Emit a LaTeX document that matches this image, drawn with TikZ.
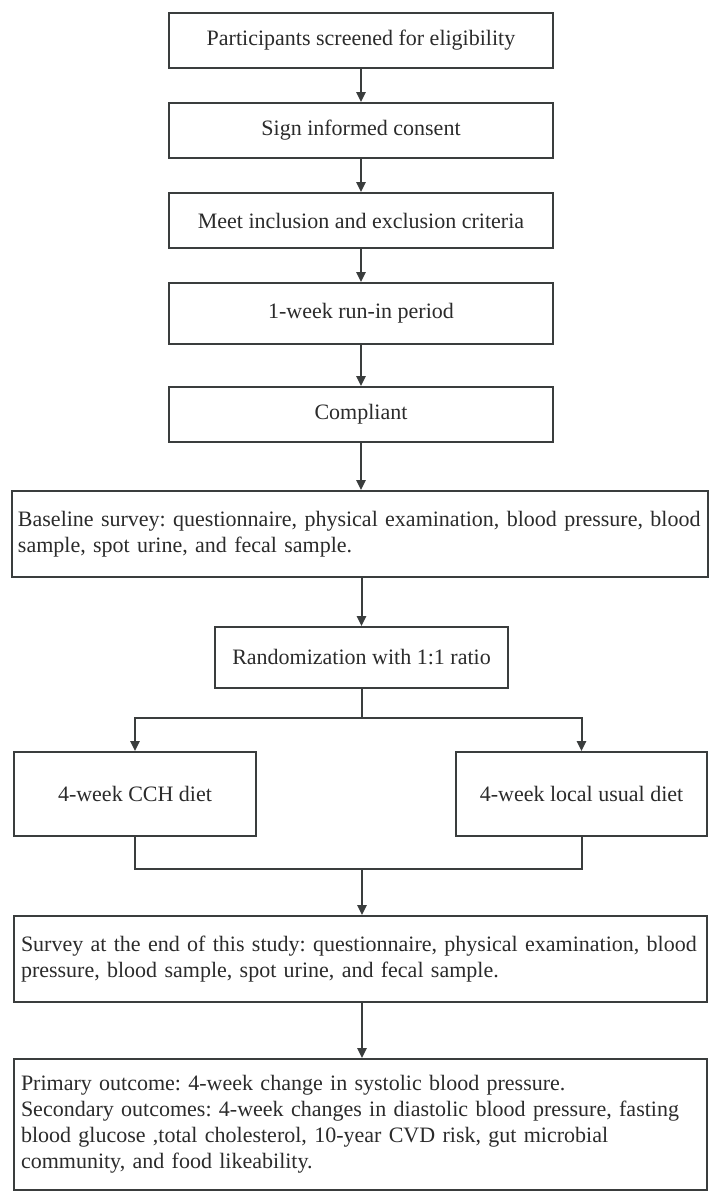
\documentclass[tikz,border=0pt]{standalone}
\usepackage{fontspec}
\setmainfont{Liberation Serif}
\usetikzlibrary{arrows.meta}
\definecolor{lncol}{HTML}{3A3D3D}
\definecolor{txcol}{HTML}{2B2B2B}
\frenchspacing
\begin{document}
\begin{tikzpicture}[x=0.5pt,y=-0.5pt,
  box/.style={draw=lncol, line width=1pt, inner sep=0pt, text=txcol,
    font=\fontsize{11}{13}\selectfont\frenchspacing},
  wide/.style={box, align=left},
  conn/.style={draw=lncol, line width=1pt},
  arr/.style={conn, -{Triangle[length=5pt,width=4.6pt]}}]
\useasboundingbox (0,0) rectangle (711,1194);
\fill[white] (0,0) rectangle (711,1194);

\node[box, minimum width=192pt, minimum height=27.5pt] (b1) at (361,40.5) {Participants screened for eligibility};
\node[box, minimum width=192pt, minimum height=27.5pt] (b2) at (361,130.5) {Sign informed consent};
\node[box, minimum width=192pt, minimum height=27.5pt] (b3) at (361,220.5) {Meet inclusion and exclusion criteria};
\node[box, minimum width=192pt, minimum height=30.5pt] (b4) at (361,313.5) {1-week run-in period};
\node[box, minimum width=192pt, minimum height=27.5pt] (b5) at (361,414.5) {Compliant};

\node[wide, minimum width=348pt, text width=342pt, minimum height=43pt] (base) at (360,534)
  {\mbox{Baseline survey: questionnaire, physical examination, blood pressure, blood}\\
   \mbox{sample, spot urine, and fecal sample.}};

\node[box, minimum width=146.5pt, minimum height=30.5pt] (rand) at (361.5,657.5) {Randomization with 1:1 ratio};

\node[box, minimum width=121pt, minimum height=42pt] (cch) at (135,794) {4-week CCH diet};
\node[box, minimum width=125.5pt, minimum height=42pt] (usual) at (581.5,794) {4-week local usual diet};

\node[wide, minimum width=346.5pt, text width=339.5pt, minimum height=43pt] (end) at (360.5,959)
  {\mbox{Survey at the end of this study: questionnaire, physical examination, blood}\\
   \mbox{pressure, blood sample, spot urine, and fecal sample.}};

\node[wide, minimum width=346.5pt, text width=339.5pt, minimum height=65.5pt] (out) at (360.5,1124.5)
  {\mbox{Primary outcome: 4-week change in systolic blood pressure.}\\
   \mbox{Secondary outcomes: 4-week changes in diastolic blood pressure, fasting}\\
   \mbox{blood glucose ,total cholesterol, 10-year CVD risk, gut microbial}\\
   \mbox{community, and food likeability.}};

\draw[arr] (b1) -- (b2);
\draw[arr] (b2) -- (b3);
\draw[arr] (b3) -- (b4);
\draw[arr] (b4) -- (b5);
\draw[arr] (b5.south) -- (b5.south |- base.north);
\draw[arr] (base.south -| rand.north) -- (rand.north);

\coordinate (split) at (361.5,718);
\draw[conn] (rand.south) -- (split);
\draw[arr] (split) -| (cch.north);
\draw[arr] (split) -| (usual.north);

\coordinate (merge) at (362,869);
\draw[conn] (cch.south) |- (merge);
\draw[conn] (usual.south) |- (merge);
\draw[arr] (merge) -- (merge |- end.north);

\draw[arr] (end.south -| merge) -- (merge |- out.north);
\end{tikzpicture}
\end{document}
